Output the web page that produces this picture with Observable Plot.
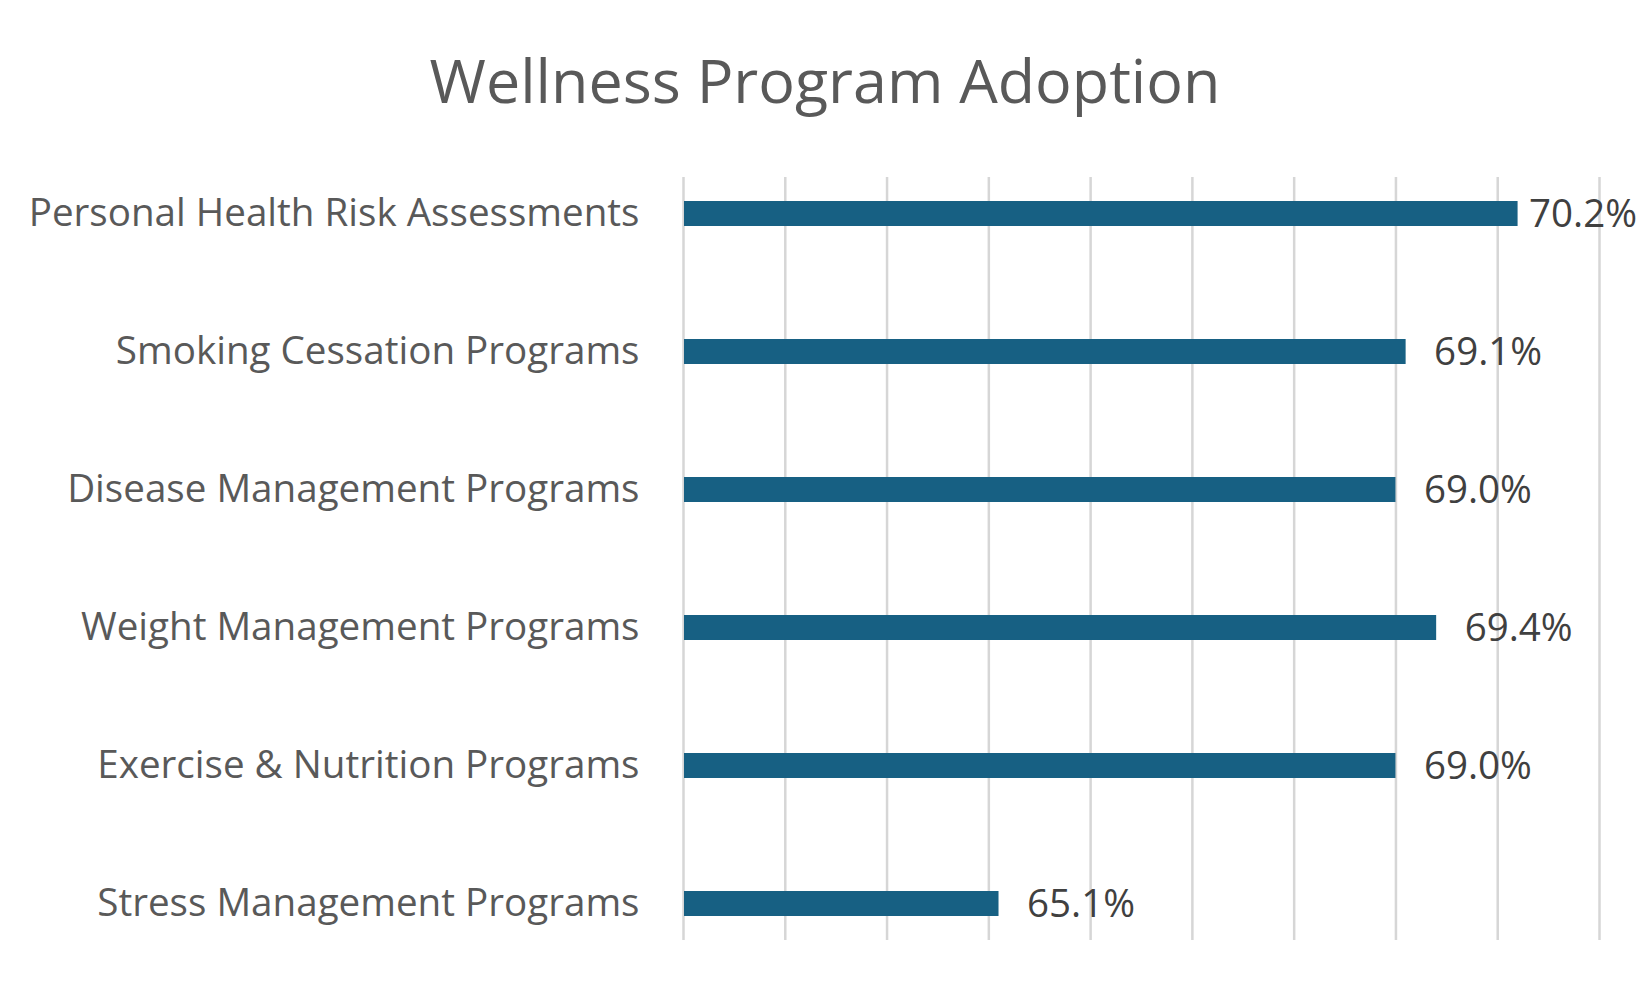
<!DOCTYPE html>
<html>
<head>
<meta charset="utf-8">
<script src="https://cdn.jsdelivr.net/npm/d3@7"></script>
<script src="https://cdn.jsdelivr.net/npm/@observablehq/plot@0.6"></script>
<style>
  html, body { margin: 0; padding: 0; background: #fff; }
  #wrap { width: 1650px; height: 990px; overflow: hidden; }
  #title {
    box-sizing: border-box; height: 140px; padding-top: 49px;
    font-family: "Open Sans", sans-serif; font-size: 61px; line-height: 1;
    color: #595959; text-align: center; width: 1650px; white-space: nowrap;
  }
  #chart svg { display: block; }
</style>
</head>
<body>
<div id="wrap">
  <div id="title">Wellness Program Adoption</div>
  <div id="chart"></div>
</div>
<script>
const categories = [
  "Personal Health Risk Assessments",
  "Smoking Cessation Programs",
  "Disease Management Programs",
  "Weight Management Programs",
  "Exercise & Nutrition Programs",
  "Stress Management Programs"
];
const values = [70.2, 69.1, 69.0, 69.4, 69.0, 65.1];
const xTicks = [62, 63, 64, 65, 66, 67, 68, 69, 70, 71];
const axisMin = 62;

const data = categories.map((c, i) => ({category: c, value: values[i]}));
const maxVal = d3.max(values);
const fmt = d => d.value.toFixed(1) + "%";

const chart = Plot.plot({
  width: 1650,
  height: 850,
  marginTop: 37,
  marginBottom: 50,
  marginLeft: 683,
  marginRight: 51,
  style: {fontFamily: "Open Sans, sans-serif", background: "#fff"},
  x: {domain: [62, 71], axis: null},
  y: {domain: categories, paddingInner: 0.82, paddingOuter: 0.16, label: null},
  marks: [
    Plot.ruleX(xTicks, {stroke: "#d6d6d6", strokeWidth: 2.5}),
    Plot.barX(data, {y: "category", x1: axisMin, x2: "value", fill: "#176083", insetLeft: 1}),
    Plot.axisY({tickSize: 0, tickPadding: 44, fontSize: 38.6, fill: "#595959", label: null}),
    Plot.text(data.filter(d => d.value !== maxVal), {
      x: "value", y: "category", text: fmt, textAnchor: "start",
      dx: 28, dy: 1, fontSize: 38.5, fill: "#404040"
    }),
    Plot.text(data.filter(d => d.value === maxVal), {
      x: "value", y: "category", text: fmt, textAnchor: "start",
      dx: 11, dy: 1, fontSize: 38.5, fill: "#404040"
    })
  ]
});
document.getElementById("chart").appendChild(chart);
</script>
</body>
</html>
